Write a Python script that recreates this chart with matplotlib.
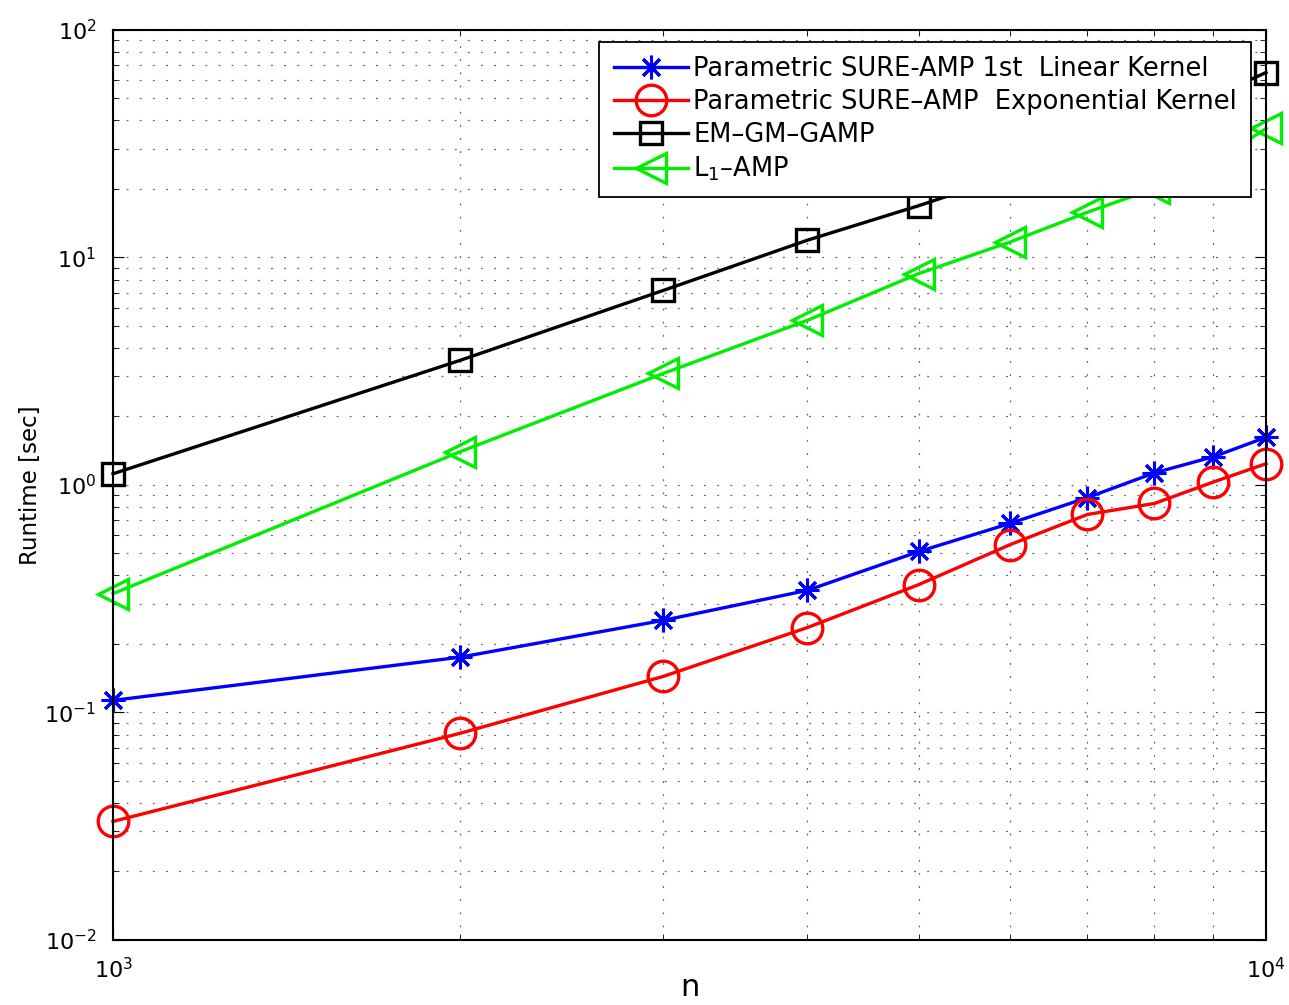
import matplotlib
matplotlib.use("Agg")
import matplotlib.pyplot as plt
import numpy as np

# problem sizes
n = [1000, 2000, 3000, 4000, 5000, 6000, 7000, 8000, 9000, 10000]

# runtimes in seconds
sure_linear = [0.113, 0.175, 0.254, 0.344, 0.51, 0.678, 0.88, 1.13, 1.33, 1.62]
sure_exp = [0.0332, 0.081, 0.144, 0.236, 0.365, 0.547, 0.742, 0.829, 1.03, 1.24]
em_gm_gamp = [1.12, 3.53, 7.16, 11.9, 16.9, 23.0, 31.0, 40.0, 51.0, 65.0]
l1_amp = [0.333, 1.40, 3.09, 5.29, 8.5, 11.7, 15.8, 20.1, 26.0, 36.9]

labels = ["Parametric SURE-AMP 1st  Linear Kernel",
          "Parametric SURE\u2013AMP  Exponential Kernel",
          "EM\u2013GM\u2013GAMP",
          "L$_1$\u2013AMP"]

fig = plt.figure(figsize=(12.89, 10.05), dpi=100)
ax = fig.add_axes([0.0877, 0.0647, 0.8945, 0.9055])

lw = 2.4
ax.plot(n, sure_linear, color="blue", lw=lw, marker=(8, 2, 0), markersize=17,
        markeredgewidth=2.2, label=labels[0], clip_on=False)
ax.plot(n, sure_exp, color="red", lw=lw, marker="o", markersize=22,
        markerfacecolor="none", markeredgewidth=2.4, label=labels[1], clip_on=False)
ax.plot(n, em_gm_gamp, color="black", lw=lw, marker="s", markersize=16,
        markerfacecolor="none", markeredgewidth=2.4, label=labels[2], clip_on=False)
ax.plot(n, l1_amp, color="#00ee00", lw=lw, marker="<", markersize=22,
        markerfacecolor="none", markeredgewidth=2.4, label=labels[3], clip_on=False)

ax.set_xscale("log")
ax.set_yscale("log")
ax.set_xlim(1000, 10000)
ax.set_ylim(0.01, 100)

# sparse dotted grid, major and minor
ax.grid(True, which="both", linestyle=(0, (1.5, 9)), color="#666666", linewidth=0.9)
ax.tick_params(which="both", direction="in", top=True, right=True)
ax.tick_params(which="major", length=8, labelsize=16, pad=12)
ax.tick_params(which="minor", length=4)
for s in ax.spines.values():
    s.set_linewidth(1.5)

ax.set_xlabel("n", fontsize=22)
ax.xaxis.set_label_coords(0.5, -0.036)
ax.set_ylabel("Runtime [sec]", fontsize=16.5, labelpad=2)

leg = ax.legend(loc="upper right", bbox_to_anchor=(0.987, 0.987), borderaxespad=0,
                fontsize=18.5, handlelength=2.9, handletextpad=0.2,
                labelspacing=0.27, fancybox=False, framealpha=1,
                edgecolor="black", borderpad=0.55)
leg.get_frame().set_linewidth(1.3)

fig.savefig("out.png", dpi=100)
